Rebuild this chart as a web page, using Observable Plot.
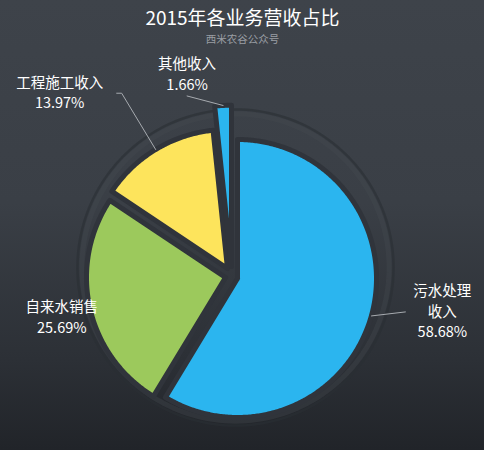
<!DOCTYPE html>
<html><head><meta charset="utf-8">
<script src="https://cdn.jsdelivr.net/npm/d3@7"></script>
<script src="https://cdn.jsdelivr.net/npm/@observablehq/plot@0.6"></script>
<style>
html,body{margin:0;padding:0;background:#23262c;}
#chart{position:relative;width:484px;height:450px;background:linear-gradient(#3e434a 0%, #3a3f46 45%, #2c3036 80%, #212429 100%);}
#chart svg{display:block;}
</style></head><body><div id="chart"></div>
<script>
// ---- data ----
const title = "2015年各业务营收占比";
const subtitle = "西米农谷公众号";
const categories = ["污水处理收入", "自来水销售", "工程施工收入", "其他收入"];
const labelNames = [["污水处理", "收入"], ["自来水销售"], ["工程施工收入"], ["其他收入"]];
const shares = [58.68, 25.69, 13.97, 1.66];

// ---- style ----
const colors = ["#2bb5ef", "#9cc95c", "#fde45c", "#2bb5ef"];
const apexShift = [[0, 0], [-12, -1], [-10, -10], [-6, -12]]; // px, explode of each slice
const radiusScale = [1, 1, 1, 1.16];
const leaderElbow = [1, 0, 1.473, 1];                       // radial factor (0 = no leader)
const leaderTail = [[34, -4], [0, 0], [-5, 0], [-36, -9.5]];  // px
const labelNudge = [[37, 0], [-28, 10.5], [-57, 0], [0, -21]]; // px
const lineGap = 20.5; // px between label lines

const R = 139, CX = 237, CY = 278;
const pie = d3.pie().sort(null).value(d => d)(shares);

const slices = [];
const leaders = [];
const labels = [];
pie.forEach((p, i) => {
  const cat = categories[i];
  const ox = apexShift[i][0] / R, oy = -apexShift[i][1] / R;
  const rr = radiusScale[i];
  const n = Math.max(6, Math.ceil((p.endAngle - p.startAngle) / 0.01));
  const pts = [{cat, x: ox, y: oy}];
  for (let k = 0; k <= n; k++) {
    const a = p.startAngle + (p.endAngle - p.startAngle) * k / n;
    pts.push({cat, x: ox + rr * Math.sin(a), y: oy + rr * Math.cos(a)});
  }
  pts.push({cat, x: ox, y: oy});
  slices.push(pts);
  const m = (p.startAngle + p.endAngle) / 2;
  const ax = ox + rr * Math.sin(m), ay = oy + rr * Math.cos(m);
  let ex = ax, ey = ay;
  if (leaderElbow[i] > 0) {
    const k = leaderElbow[i];
    const bx = ox + rr * k * Math.sin(m), by = oy + rr * k * Math.cos(m);
    ex = bx + leaderTail[i][0] / R; ey = by - leaderTail[i][1] / R;
    leaders.push({cat, x: ax, y: ay}, {cat, x: bx, y: by}, {cat, x: ex, y: ey});
  }
  const lines = [...labelNames[i], shares[i].toFixed(2) + "%"];
  const cx = ex + labelNudge[i][0] / R, cy = ey - labelNudge[i][1] / R;
  lines.forEach((t, j) => {
    const off = (j - (lines.length - 1) / 2) * lineGap;
    labels.push({text: t, x: cx, y: cy - off / R});
  });
});

// background ring
const ring = d3.range(0, 361, 2).map(d => ({
  x: -0.0144 + 1.137 * Math.sin(d * Math.PI / 180),
  y: 0.079 + 1.137 * Math.cos(d * Math.PI / 180)
}));
const ringGlow = ring.map(d => ({x: -0.0144 + (d.x + 0.0144) * 0.972, y: 0.079 + (d.y - 0.079) * 0.972}));

const font = "'Noto Sans CJK SC', 'Noto Sans', sans-serif";
const chart = Plot.plot({
  width: 484, height: 450, margin: 0,
  x: {domain: [-1, 1], range: [CX - R, CX + R], axis: null},
  y: {domain: [-1, 1], range: [CY + R, CY - R], axis: null},
  style: {background: "transparent", fontFamily: font, overflow: "visible"},
  marks: [
    Plot.line(ringGlow, {x: "x", y: "y", stroke: "#454a51", strokeWidth: 5, strokeOpacity: 0.35}),
    Plot.line(ring, {x: "x", y: "y", stroke: "#2a2e34", strokeWidth: 2.5, strokeOpacity: 0.6}),
    ...slices.map((pts, i) => Plot.line(pts, {
      x: "x", y: "y", fill: colors[i], stroke: "#30343b", strokeWidth: 5, strokeLinejoin: "round"
    })),
    Plot.line(leaders, {x: "x", y: "y", z: "cat", stroke: "#a7abb0", strokeWidth: 1}),
    Plot.text(labels, {x: "x", y: "y", text: "text", fill: "#ffffff", fontSize: 14.5, lineAnchor: "middle", textAnchor: "middle", fontFamily: font}),
    Plot.text([title], {frameAnchor: "top", dy: 11, fill: "#ffffff", fontSize: 19, fontFamily: font}),
    Plot.text([subtitle], {frameAnchor: "top", dy: 35, fill: "#9a9ea4", fontSize: 10.5, fontFamily: font})
  ]
});
document.getElementById("chart").appendChild(chart);
</script>
</body></html>
